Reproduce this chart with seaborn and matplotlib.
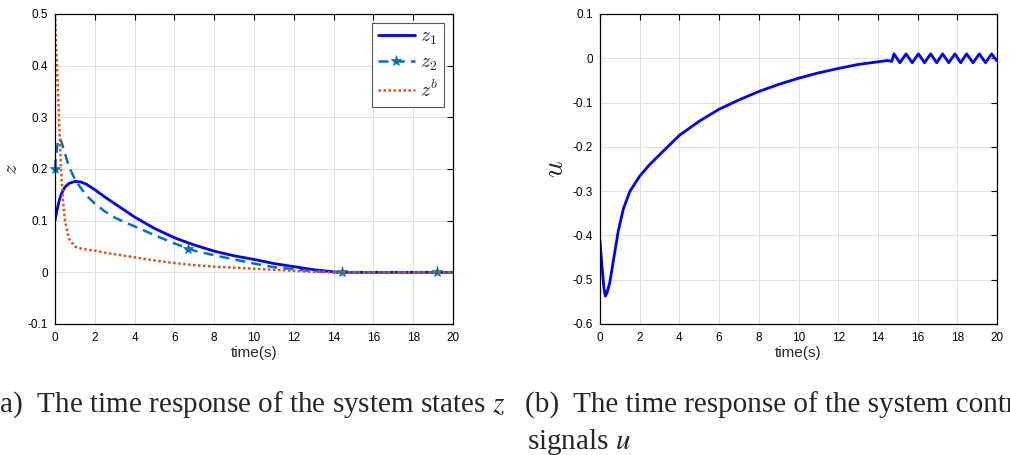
import numpy as np
import pandas as pd
import matplotlib
matplotlib.use("Agg")
import matplotlib.pyplot as plt
import seaborn as sns

# ---------------- data ----------------
t_z = [0, 0.05, 0.1, 0.15, 0.2, 0.3, 0.4, 0.5, 0.7, 1.0, 1.3, 1.6, 2.0, 2.5, 3, 3.5, 4, 5, 6,
       6.7, 7, 8, 9, 10, 11, 12, 13, 14, 14.4, 15, 16, 17, 18, 19, 19.2, 20]
z1 = [0.100, 0.110, 0.120, 0.129, 0.137, 0.150, 0.158, 0.165, 0.172, 0.176, 0.175, 0.170, 0.160,
      0.146, 0.133, 0.120, 0.107, 0.085, 0.067, 0.057, 0.053, 0.041, 0.032, 0.025, 0.017, 0.011,
      0.005, 0.001, 0.000, 0.000, 0.000, 0.000, 0.000, 0.000, 0.000, 0.000]
z2 = [0.200, 0.225, 0.240, 0.252, 0.260, 0.255, 0.243, 0.230, 0.205, 0.180, 0.163, 0.148, 0.133,
      0.118, 0.106, 0.097, 0.089, 0.072, 0.056, 0.046, 0.042, 0.033, 0.025, 0.017, 0.010, 0.006,
      0.002, 0.000, 0.000, 0.000, 0.000, 0.000, 0.000, 0.000, 0.000, 0.000]
zb = [0.500, 0.440, 0.400, 0.350, 0.300, 0.200, 0.140, 0.100, 0.065, 0.050, 0.046, 0.044, 0.042,
      0.038, 0.035, 0.032, 0.029, 0.023, 0.018, 0.015, 0.014, 0.011, 0.009, 0.007, 0.005, 0.003,
      0.001, 0.000, 0.000, 0.000, 0.000, 0.000, 0.000, 0.000, 0.000, 0.000]
z2_star_idx = [0, 19, 28, 34]

t_u = [0, 0.1, 0.2, 0.27, 0.35, 0.5, 0.7, 0.92, 1.17, 1.5, 2.0, 2.5, 3.2, 4, 5, 6, 7, 8, 9, 10,
       11, 12, 13, 14, 14.5, 14.7,
       14.81, 15.11, 15.42, 15.73, 16.04, 16.35, 16.66, 16.96, 17.26, 17.57, 17.88, 18.17,
       18.47, 18.79, 19.11, 19.42, 19.73, 20.0]
u = [-0.412, -0.470, -0.520, -0.537, -0.530, -0.505, -0.450, -0.390, -0.341, -0.301, -0.266,
     -0.240, -0.209, -0.174, -0.142, -0.115, -0.094, -0.075, -0.059, -0.045, -0.033, -0.023,
     -0.014, -0.008, -0.005, -0.007,
     0.010, -0.010, 0.010, -0.010, 0.010, -0.010, 0.010, -0.010, 0.010, -0.010, 0.010, -0.010,
     0.010, -0.010, 0.010, -0.010, 0.010, -0.006]

x_ticks = list(range(0, 21, 2))
z_ticks = [-0.1, 0, 0.1, 0.2, 0.3, 0.4, 0.5]
z_tick_labels = ["-0.1", "0", "0.1", "0.2", "0.3", "0.4", "0.5"]
u_ticks = [-0.6, -0.5, -0.4, -0.3, -0.2, -0.1, 0, 0.1]
u_tick_labels = ["-0.6", "-0.5", "-0.4", "-0.3", "-0.2", "-0.1", "0", "0.1"]

caption_a = "(a)  The time response of the system states $z$"
caption_b1 = "(b)  The time response of the system control"
caption_b2 = "signals $u$"

# ---------------- style ----------------
sns.set_theme(style="whitegrid")
plt.rcParams["font.family"] = ["Liberation Sans", "DejaVu Sans"]
plt.rcParams["mathtext.fontset"] = "cm"
plt.rcParams.update({
    "axes.edgecolor": "black",
    "axes.linewidth": 0.9,
    "grid.color": "#dedede",
    "grid.linewidth": 0.7,
    "xtick.direction": "in",
    "ytick.direction": "in",
    "xtick.top": True,
    "ytick.right": True,
    "xtick.major.size": 4,
    "ytick.major.size": 4,
    "xtick.major.width": 0.8,
    "ytick.major.width": 0.8,
    "xtick.color": "black",
    "ytick.color": "black",
    "xtick.labelsize": 8.5,
    "ytick.labelsize": 8.5,
    "xtick.major.pad": 6,
    "ytick.major.pad": 5,
})

fig = plt.figure(figsize=(10.1, 4.55), dpi=100)
ax1 = fig.add_axes([55 / 1010, 1 - 324 / 455, 398 / 1010, 310 / 455])
ax2 = fig.add_axes([600 / 1010, 1 - 324 / 455, 397 / 1010, 310 / 455])

c_z1 = (0, 0, 1)
c_z2 = (0, 0.447, 0.741)
c_zb = (0.85, 0.325, 0.098)

df_z = pd.DataFrame({"t": t_z, "z1": z1, "z2": z2, "zb": zb})

sns.lineplot(data=df_z, x="t", y="z1", ax=ax1, color=c_z1, lw=2.0, label="$z_1$",
             estimator=None, sort=False)
sns.lineplot(data=df_z, x="t", y="z2", ax=ax1, color=c_z2, lw=1.8, linestyle=(0, (4, 2.5)),
             marker="*", markersize=8, markevery=z2_star_idx, markeredgewidth=0.5,
             markeredgecolor=c_z2, label="$z_2$", estimator=None, sort=False, clip_on=False)
sns.lineplot(data=df_z, x="t", y="zb", ax=ax1, color=c_zb, lw=1.8, linestyle=(0, (1, 1)),
             label="$z^b$", estimator=None, sort=False)

ax1.set_xlim(0, 20)
ax1.set_ylim(-0.1, 0.5)
ax1.set_xticks(x_ticks)
ax1.set_xticklabels([str(v) for v in x_ticks])
ax1.set_yticks(z_ticks)
ax1.set_yticklabels(z_tick_labels)
ax1.set_xlabel("time(s)", fontsize=11, labelpad=1)
ax1.set_ylabel("$z$", fontsize=15, labelpad=5)

leg = ax1.legend(loc="upper right", bbox_to_anchor=(0.978, 0.972), borderaxespad=0,
                 fontsize=14, frameon=True, fancybox=False, handlelength=1.9,
                 handletextpad=0.3, labelspacing=0.35, borderpad=0.3)
leg.get_frame().set_edgecolor("#555555")
leg.get_frame().set_linewidth(0.8)
leg.get_frame().set_alpha(1)

df_u = pd.DataFrame({"t": t_u, "u": u})
sns.lineplot(data=df_u, x="t", y="u", ax=ax2, color=c_z1, lw=2.0, estimator=None, sort=False)
ax2.set_xlim(0, 20)
ax2.set_ylim(-0.6, 0.1)
ax2.set_xticks(x_ticks)
ax2.set_xticklabels([str(v) for v in x_ticks])
ax2.set_yticks(u_ticks)
ax2.set_yticklabels(u_tick_labels)
ax2.set_xlabel("time(s)", fontsize=11, labelpad=1)
ax2.set_ylabel("$u$", fontsize=21, labelpad=3)

for ax in (ax1, ax2):
    ax.grid(True)
    for s in ax.spines.values():
        s.set_color("black")
        s.set_linewidth(0.9)

cap_kw = dict(fontsize=21, family="Liberation Serif", math_fontfamily="stix",
              va="center", ha="left")
fig.text(-10 / 1010, 1 - 405 / 455, caption_a, **cap_kw)
fig.text(525 / 1010, 1 - 405 / 455, caption_b1, **cap_kw)
fig.text(527 / 1010, 1 - 442 / 455, caption_b2, **cap_kw)

fig.savefig("out.png", dpi=100)
